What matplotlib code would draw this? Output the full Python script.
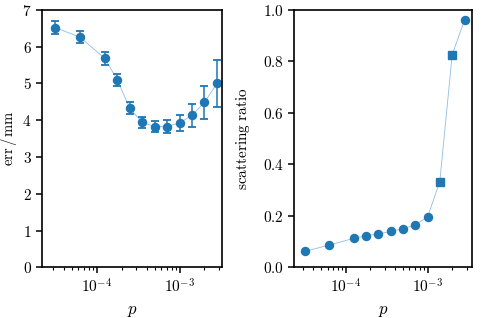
import numpy as np
import matplotlib
matplotlib.use("Agg")
import matplotlib.pyplot as plt
from matplotlib.ticker import FuncFormatter

plt.rcParams["font.family"] = "serif"
plt.rcParams["font.serif"] = ["DejaVu Serif"]
plt.rcParams["mathtext.fontset"] = "cm"
plt.rcParams["font.size"] = 9

p = [3.125e-5, 6.25e-5, 1.25e-4, 1.77e-4, 2.5e-4, 3.54e-4, 5e-4,
     7.07e-4, 1e-3, 1.41e-3, 2e-3, 2.83e-3]
err = [6.52, 6.26, 5.68, 5.10, 4.33, 3.94, 3.83, 3.83, 3.93, 4.13, 4.49, 5.00]
err_sd = [0.17, 0.17, 0.17, 0.17, 0.17, 0.14, 0.14, 0.17, 0.22, 0.30, 0.45, 0.63]
ratio = [0.062, 0.087, 0.113, 0.123, 0.130, 0.140, 0.150, 0.166, 0.196,
         0.333, 0.826, 0.960]
square = [False] * 9 + [True, True, False]

blue = "#1f77b4"
light = "#8fbfe0"

fig = plt.figure(figsize=(4.83, 3.18), dpi=100)
ax1 = fig.add_axes([0.087, 0.159, 0.373, 0.810])
ax2 = fig.add_axes([0.609, 0.159, 0.368, 0.810])

ax1.plot(p, err, color=light, lw=0.6, zorder=1)
ax1.errorbar(p, err, yerr=err_sd, fmt="o", color=blue, ms=5.8,
             capsize=3, capthick=1.3, elinewidth=1.1, zorder=2)
ax1.set_ylim(0, 7)
ax1.set_ylabel(r"$\mathrm{err\,/\,mm}$", fontsize=10.5)
ax1.yaxis.set_label_coords(-0.13, 0.5)

ax2.plot(p, ratio, color=light, lw=0.6, zorder=1)
for x, y, sq in zip(p, ratio, square):
    ax2.plot(x, y, "s" if sq else "o", color=blue, ms=5.8, zorder=2)
ax2.set_ylim(0, 1.0)
ax2.set_ylabel(r"$\mathrm{scattering\ ratio}$", fontsize=11)
ax2.yaxis.set_label_coords(-0.235, 0.5)

fmt_int = FuncFormatter(lambda v, _: r"$%d$" % round(v))
fmt_dec = FuncFormatter(lambda v, _: r"$%.1f$" % v)
ax1.yaxis.set_major_formatter(fmt_int)
ax2.yaxis.set_major_formatter(fmt_dec)

for ax in (ax1, ax2):
    ax.set_xscale("log")
    ax.set_xlabel(r"$p$", fontsize=12)
    for s in ax.spines.values():
        s.set_linewidth(1.2)
    ax.tick_params(which="major", direction="out", length=4, width=1.1, labelsize=11)
    ax.tick_params(which="minor", direction="out", length=2.5, width=0.8)
    ax.xaxis.set_major_formatter(FuncFormatter(
        lambda v, _: r"$10^{%d}$" % round(np.log10(v))))

ax1.set_xlim(10 ** -4.661, 10 ** -2.485)
ax2.set_xlim(10 ** -4.633, 10 ** -2.458)

fig.savefig("out.png", dpi=100)
